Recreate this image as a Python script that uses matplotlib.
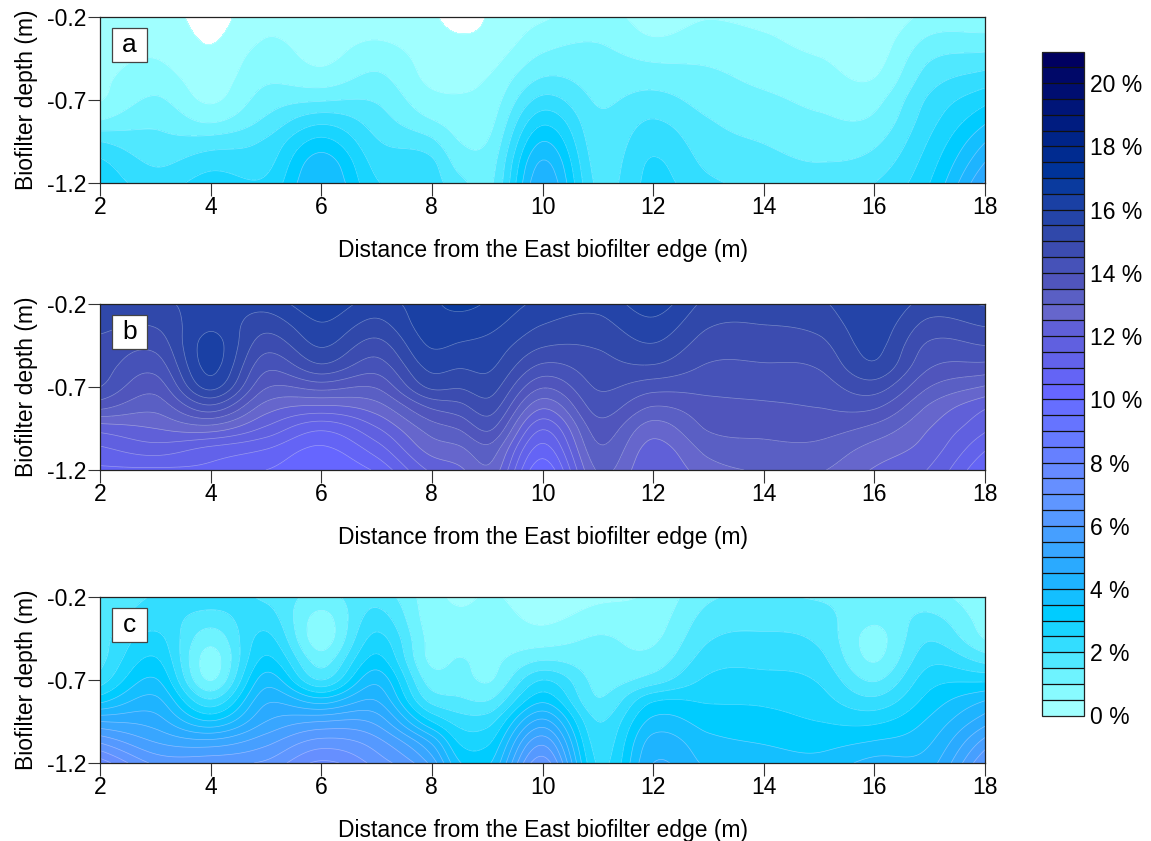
import numpy as np
import matplotlib
matplotlib.use('Agg')
import matplotlib.pyplot as plt
from matplotlib.colors import ListedColormap, BoundaryNorm
from matplotlib.patches import Rectangle

plt.rcParams['font.family'] = ['Liberation Sans', 'DejaVu Sans']

# sampling positions
distance = [2, 3, 4, 5, 6, 7, 8, 8.5, 9, 10, 11, 12, 13, 14, 15, 16, 17, 18]
depth = [-0.2, -0.325, -0.45, -0.575, -0.7, -0.825, -0.95, -1.075, -1.2]

# one row per distance, top to bottom in depth
panel_a = [
    [.1, .25, .35, .4, .47, 1.02, 2.0, 2.6, 2.9],
    [.3, .38, .5, .75, 1.07, 1.4, 1.63, 1.93, 2.25],
    [-.2, -.05, .1, .25, .43, .93, 1.73, 2.3, 2.75],
    [.4, .5, .72, .92, 1.23, 1.6, 2.07, 2.33, 2.6],
    [.2, .3, .4, .75, 1.45, 2.35, 3.15, 3.75, 4.0],
    [.25, .47, .8, 1.12, 1.45, 1.75, 2.05, 2.33, 2.55],
    [.08, .2, .3, .4, .65, 1.03, 1.6, 2.1, 2.25],
    [-.25, .05, .2, .35, .57, .78, 1.0, 1.3, 1.65],
    [.02, .1, .3, .52, .68, .82, 1.0, 1.2, 1.35],
    [.42, .75, 1.1, 1.55, 2.15, 2.85, 3.5, 4.05, 4.4],
    [.75, .95, 1.15, 1.3, 1.45, 1.6, 1.7, 1.8, 1.9],
    [.25, .52, .93, 1.3, 1.68, 2.03, 2.33, 2.55, 2.65],
    [.47, .72, .92, 1.12, 1.3, 1.53, 1.7, 1.88, 2.1],
    [.3, .57, .75, .9, 1.1, 1.28, 1.48, 1.65, 1.85],
    [.1, .27, .52, .72, .9, 1.08, 1.3, 1.5, 1.7],
    [.02, .2, .32, .52, .85, 1.1, 1.4, 1.7, 2.0],
    [.65, 1.05, 1.45, 1.78, 2.1, 2.32, 2.55, 2.78, 3.0],
    [.65, 1.12, 1.68, 2.25, 2.85, 3.4, 3.97, 4.5, 5.05],
]
panel_b = [
    [15.4, 15.1, 14.9, 14.75, 14.5, 13.6, 12.2, 11.4, 10.9],
    [15.4, 15.05, 14.65, 14.2, 13.7, 13.15, 12.5, 11.75, 10.9],
    [15.7, 15.9, 16.2, 16.15, 15.65, 14.3, 12.75, 11.35, 10.85],
    [15.7, 15.2, 14.7, 14.15, 13.55, 12.75, 11.9, 11.0, 10.5],
    [16.35, 15.95, 15.55, 14.9, 13.7, 12.35, 11.1, 10.4, 10.05],
    [15.8, 15.35, 14.8, 14.25, 13.55, 12.75, 11.95, 11.25, 10.6],
    [16.4, 16.3, 16.05, 15.65, 15.1, 14.05, 13.25, 12.7, 12.1],
    [16.65, 16.25, 15.95, 15.55, 15.05, 14.3, 13.55, 12.9, 12.4],
    [16.45, 16.15, 15.85, 15.6, 15.25, 14.75, 14.1, 13.35, 12.9],
    [15.85, 15.5, 15.05, 14.4, 13.55, 12.55, 11.55, 10.8, 10.15],
    [15.65, 15.35, 15.05, 14.8, 14.55, 14.2, 13.75, 13.4, 13.05],
    [16.25, 15.85, 15.45, 14.95, 14.2, 13.45, 12.75, 12.3, 12.05],
    [15.35, 15.05, 14.75, 14.45, 14.15, 13.8, 13.55, 13.15, 12.8],
    [15.25, 15.0, 14.75, 14.45, 14.2, 13.9, 13.65, 13.35, 13.05],
    [15.4, 15.15, 14.85, 14.55, 14.25, 14.0, 13.7, 13.35, 13.05],
    [16.0, 15.8, 15.65, 15.4, 14.75, 14.05, 13.35, 12.8, 12.45],
    [15.3, 14.85, 14.4, 14.05, 13.5, 12.9, 12.5, 12.25, 11.95],
    [15.55, 15.05, 14.5, 13.85, 12.95, 12.05, 11.6, 11.05, 10.5],
]
panel_c = [
    [1.6, 1.7, 1.8, 1.85, 2.25, 3.35, 5.0, 6.45, 7.8],
    [2.05, 2.25, 2.65, 3.05, 3.55, 4.15, 4.75, 5.5, 6.4],
    [2.3, 1.8, 1.2, .8, .98, 2.1, 3.55, 5.2, 6.4],
    [1.9, 2.25, 2.65, 3.1, 3.75, 4.4, 5.0, 5.85, 6.6],
    [1.35, .85, .75, 1.25, 2.0, 3.75, 5.5, 6.7, 7.6],
    [1.8, 2.2, 2.65, 3.15, 3.85, 4.5, 5.35, 6.2, 6.8],
    [.7, .75, .85, .9, 1.25, 1.85, 3.0, 4.4, 5.3],
    [.4, .62, .82, 1.02, 1.2, 1.6, 2.3, 2.95, 3.55],
    [.55, .7, .8, .88, .95, 1.5, 2.3, 2.9, 3.4],
    [.2, .4, .75, 1.45, 2.5, 3.4, 4.65, 5.85, 6.8],
    [.4, .7, 1.05, 1.2, 1.35, 1.55, 2.0, 2.25, 2.45],
    [.6, .75, .92, 1.2, 1.75, 2.95, 3.65, 4.2, 4.5],
    [1.42, 1.68, 1.95, 2.25, 2.6, 2.95, 3.3, 3.65, 3.9],
    [1.55, 1.8, 2.1, 2.35, 2.65, 2.92, 3.2, 3.47, 3.75],
    [1.45, 1.7, 1.9, 2.15, 2.45, 2.7, 3.0, 3.35, 3.65],
    [1.3, 1.1, .85, .95, 1.45, 2.15, 2.9, 3.55, 4.2],
    [1.2, 1.6, 1.95, 2.35, 2.8, 3.2, 3.6, 3.95, 4.3],
    [.6, .75, .98, 1.8, 2.9, 4.0, 4.8, 5.7, 6.5],
]
panel_names = ['a', 'b', 'c']

# colour of each 0.5 % band, from 0 % to 21 %
band_colors = ['#a0ffff', '#88fbff', '#6ef3ff', '#50e8ff', '#33ddff', '#19d5ff', '#00ccff',
               '#14bfff', '#1eb4ff', '#2aaaff', '#38a6ff', '#469fff', '#5599ff', '#5f96ff',
               '#668fff', '#668aff', '#6680ff', '#667aff', '#6674ff', '#666eff', '#6666ff',
               '#6464f5', '#6262ea', '#6060e0', '#6060d8', '#6666cc', '#5a5fc4', '#5055bc',
               '#4652b8', '#3c4cb0', '#3048aa', '#2444a8', '#1a40a4', '#0a3a9e', '#003399',
               '#002b90', '#002488', '#001c80', '#001578', '#000e70', '#000868', '#000060']
levels = np.arange(0, 21.5, 0.5)
cmap = ListedColormap(band_colors)
norm = BoundaryNorm(levels, cmap.N)


# rounds the contours for drawing only, passes through the values read above
def smooth_axis(z, pos, fine, axis):
    z = np.moveaxis(z, axis, 0)
    slope = np.gradient(z, pos, axis=0)
    i = np.clip(np.searchsorted(pos, fine, side='right') - 1, 0, len(pos) - 2)
    h = (pos[i + 1] - pos[i])
    t = (fine - pos[i]) / h
    shape = (-1,) + (1,) * (z.ndim - 1)
    h, t = h.reshape(shape), t.reshape(shape)
    out = ((2 * t**3 - 3 * t**2 + 1) * z[i] + (t**3 - 2 * t**2 + t) * h * slope[i]
           + (-2 * t**3 + 3 * t**2) * z[i + 1] + (t**3 - t**2) * h * slope[i + 1])
    return np.moveaxis(out, 0, axis)


W, H = 1151, 841
fig = plt.figure(figsize=(W / 100, H / 100), dpi=100)

# top of each panel in pixels
panel_tops = [17, 304, 597]
panel_h = 166
left, right = 100, 985
font = 16.5

x_pos = np.array(distance, dtype=float)
y_pos = np.array(depth)[::-1]
x_fine = np.linspace(2, 18, 321)
y_fine = np.linspace(-1.2, -0.2, 101)

for name, data, top in zip(panel_names, [panel_a, panel_b, panel_c], panel_tops):
    ax = fig.add_axes([left / W, 1 - (top + panel_h) / H, (right - left) / W, panel_h / H])
    z = np.array(data).T[::-1]
    z_fine = smooth_axis(smooth_axis(z, x_pos, x_fine, 1), y_pos, y_fine, 0)
    cf = ax.contourf(x_fine, y_fine, z_fine, levels=levels, cmap=cmap, norm=norm)
    ax.contour(x_fine, y_fine, z_fine, levels=levels, colors='white', linewidths=0.5, alpha=0.35)
    ax.set_xlim(2, 18)
    ax.set_ylim(-1.2, -0.2)
    ax.set_xticks(range(2, 19, 2))
    ax.set_yticks([-1.2, -0.7, -0.2])
    ax.set_yticklabels(['-1.2', '-0.7', '-0.2'])
    ax.tick_params(labelsize=font, length=9, width=0.8, color='#333333', pad=0.5)
    ax.set_xlabel('Distance from the East biofilter edge (m)', fontsize=font, labelpad=14)
    ax.set_ylabel('Biofilter depth (m)', fontsize=font, labelpad=6.5)
    for side, spine in ax.spines.items():
        spine.set_linewidth(0.9)
        spine.set_color('#222222')
    # letter box, 35 px wide, 11 px off the panel corner
    bw, bh = 35 / (right - left), 34 / panel_h
    bx, by = 12 / (right - left), 1 - 45 / panel_h
    ax.add_patch(Rectangle((bx, by), bw, bh, transform=ax.transAxes, fc='white', ec='#444444', lw=0.9, zorder=5))
    ax.text(bx + bw / 2, by + bh / 2, name, transform=ax.transAxes, fontsize=19, ha='center', va='center', zorder=6)

cax = fig.add_axes([1042 / W, 1 - 715.5 / H, 42 / W, 664 / H])
cb = fig.colorbar(cf, cax=cax, ticks=range(0, 21, 2), drawedges=True, format='%d %%')
cb.ax.minorticks_off()
cb.ax.tick_params(labelsize=font, length=0, pad=4.5)
cb.dividers.set_color('#111111')
cb.dividers.set_linewidth(0.9)
cb.outline.set_edgecolor('#222222')
cb.outline.set_linewidth(0.9)

fig.savefig('out.png', dpi=100)
